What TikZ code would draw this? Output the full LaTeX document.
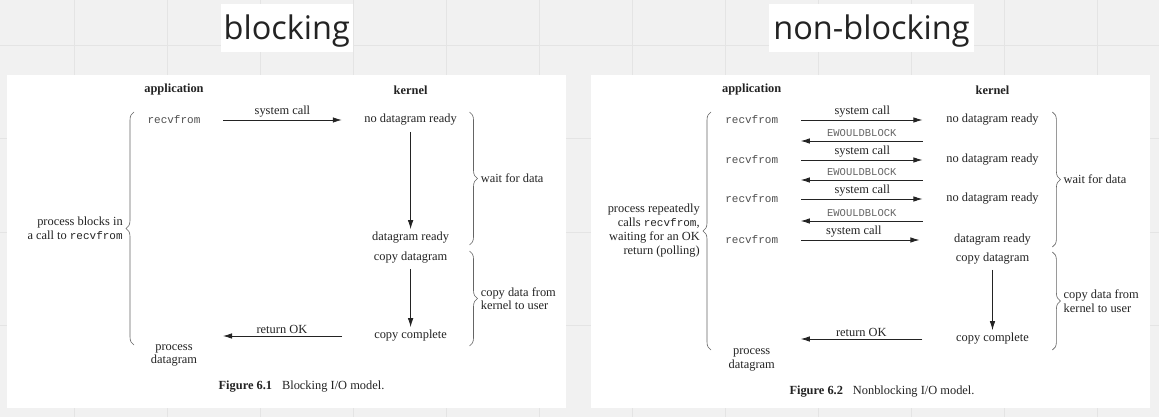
\documentclass[tikz,border=0pt]{standalone}
\usepackage{fontspec}
\setmainfont{Liberation Serif}
\setmonofont{Liberation Mono}
\newfontfamily\boardfont{Open Sans}
\usetikzlibrary{arrows.meta,decorations.pathreplacing}

\definecolor{board}{RGB}{241,241,241}
\definecolor{boardline}{RGB}{228,228,228}
\definecolor{ink}{RGB}{35,35,35}
\newcommand{\callname}[1]{{\ttfamily\fontsize{11}{13.5}\selectfont #1}}

\begin{document}
\begin{tikzpicture}[x=1pt, y=-1pt]
% STYLES
\tikzset{%
    words/.style={%
inner sep=0pt,
text=ink,
font=\fontsize{12.4}{13.5}\selectfont
                 },
    head/.style={words, font=\fontsize{12.4}{13.5}\selectfont\bfseries},
    call/.style={inner sep=0pt, text=ink!80, font=\ttfamily\fontsize{11}{13.5}\selectfont},
    errno/.style={inner sep=0pt, text=ink!70, font=\ttfamily\fontsize{10.5}{12}\selectfont},
    note/.style={words, align=right},
    caption/.style={words, font=\fontsize{12.4}{13.5}\selectfont},
    flow/.style={-{Latex[length=9pt,width=5.5pt]}, line width=0.8pt, draw=ink},
    curly/.style={decorate, decoration={brace, amplitude=8pt}, line width=0.6pt, draw=ink!70},
    panel/.style={fill=white, draw=none, inner sep=0pt, anchor=north west, minimum width=559pt, minimum height=333pt},
    boardtitle/.style={%
fill=white,
inner sep=0pt,
text=ink,
anchor=base,
font=\boardfont\fontsize{32.5}{36}\selectfont,
text height=35.3pt,
text depth=12.4pt
                      }
             }

% Board and grid
\useasboundingbox (0,0) rectangle (1159,417);
\fill[board] (0,0) rectangle (1159,417);
\foreach \gx in {0,...,11}
    \draw[boardline, line width=1pt] (74.6+93*\gx,0) -- (74.6+93*\gx,417);
\foreach \gy in {0,...,3}
    \draw[boardline, line width=1pt] (0,46+93*\gy) -- (1159,46+93*\gy);

% Titles and panels
\node[boardtitle, minimum width=131.7pt] (blocktitle) at (286.8,39.3) {blocking};
\node[boardtitle, minimum width=205pt] (nonblocktitle) at (871.5,39.3) {non-blocking};
\node[panel] (blockpanel) at (7,75) {};
\node[panel] (nonblockpanel) at (591,75) {};

% Blocking I/O model
\node[head] (app1) at (174,90) {application};
\node[head] (ker1) at (410.6,90) {kernel};
\node[call] (rv1) at (174,120) {recvfrom};
\node[words] (nd1) at (410.6,120) {no datagram ready};
\node[words] (dr1) at (410.6,238) {datagram ready};
\node[words] (cd1) at (410.6,258) {copy datagram};
\node[words] (cc1) at (410.6,336) {copy complete};
\node[words, align=center] (pd1) at (174,355.5) {process\\datagram};
\node[caption] (cap1) at (301.5,387) {\textbf{Figure 6.1}\hspace{0.8em}Blocking I/O model.};
\coordinate (ok1) at (223,336);

\draw[flow, shorten <=22.5pt, shorten >=22.5pt] (rv1) -- node[words, above=2pt] (sc1) {system call} (nd1);
\draw[flow, shorten <=6pt, shorten >=3pt] (nd1) -- (dr1);
\draw[flow, shorten <=5pt, shorten >=3pt] (cd1) -- (cc1);
\draw[flow, shorten <=32pt] (cc1) -- node[words, above=2pt, pos=0.61] (rok1) {return OK} (ok1);

\coordinate (blk1a) at (134,345);
\coordinate (blk1b) at (134,112);
\coordinate (wt1a) at (469.5,112);
\coordinate (wt1b) at (469.5,245);
\coordinate (cp1a) at (469.5,251);
\coordinate (cp1b) at (469.5,346);
\draw[curly] (blk1a) -- node[note, midway, left=11pt] (why1) {process blocks in\\a call to \callname{recvfrom}} (blk1b);
\draw[curly] (wt1a) -- node[words, midway, right=11pt] (wait1) {wait for data} (wt1b);
\draw[curly] (cp1a) -- node[words, align=left, midway, right=11pt] (copy1) {copy data from\\kernel to user} (cp1b);

% Nonblocking I/O model
\node[head] (app2) at (751.7,90) {application};
\node[head] (ker2) at (992.5,90) {kernel};
\node[call] (rv2a) at (751.7,120) {recvfrom};
\node[call] (rv2b) at (751.7,160) {recvfrom};
\node[call] (rv2c) at (751.7,199) {recvfrom};
\node[call] (rv2d) at (751.7,240) {recvfrom};
\node[words] (nd2a) at (992.5,120) {no datagram ready};
\node[words] (nd2b) at (992.5,160) {no datagram ready};
\node[words] (nd2c) at (992.5,199) {no datagram ready};
\node[words] (dr2) at (992.5,240) {datagram ready};
\node[words] (cd2) at (992.5,259) {copy datagram};
\node[words] (cc2) at (992.5,339) {copy complete};
\node[words, align=center] (pd2) at (751.7,360) {process\\datagram};
\node[caption] (cap2) at (882,392) {\textbf{Figure 6.2}\hspace{0.8em}Nonblocking I/O model.};
\coordinate (ew1k) at (922.7,141);
\coordinate (ew1a) at (800.8,141);
\coordinate (ew2k) at (922.7,180);
\coordinate (ew2a) at (800.8,180);
\coordinate (ew3k) at (922.7,221);
\coordinate (ew3a) at (800.8,221);
\coordinate (ok2) at (800.8,339);

\draw[flow, shorten <=22.7pt, shorten >=23.7pt] (rv2a) -- node[words, above=2pt] (sc2a) {system call} (nd2a);
\draw[flow] (ew1k) -- node[errno, above=4pt] (ew1) {EWOULDBLOCK} (ew1a);
\draw[flow, shorten <=22.7pt, shorten >=23.7pt] (rv2b) -- node[words, above=2pt] (sc2b) {system call} (nd2b);
\draw[flow] (ew2k) -- node[errno, above=4pt] (ew2) {EWOULDBLOCK} (ew2a);
\draw[flow, shorten <=22.7pt, shorten >=23.7pt] (rv2c) -- node[words, above=2pt] (sc2c) {system call} (nd2c);
\draw[flow] (ew3k) -- node[errno, above=4pt] (ew3) {EWOULDBLOCK} (ew3a);
\draw[flow, shorten <=22.7pt, shorten >=34.5pt] (rv2d) -- node[words, above=2pt, pos=0.43] (sc2d) {system call} (dr2);
\draw[flow, shorten <=5pt, shorten >=3pt] (cd2) -- (cc2);
\draw[flow, shorten <=33.5pt] (cc2) -- node[words, above=2pt, pos=0.61] (rok2) {return OK} (ok2);

\coordinate (poll2a) at (711,350);
\coordinate (poll2b) at (711,112);
\coordinate (wt2a) at (1052.4,112);
\coordinate (wt2b) at (1052.4,247);
\coordinate (cp2a) at (1052.4,252);
\coordinate (cp2b) at (1052.4,350);
\draw[curly] (poll2a) -- node[note, midway, left=11pt, font=\fontsize{12.4}{14}\selectfont] (why2) {process repeatedly\\calls \callname{recvfrom},\\waiting for an OK\\return (polling)} (poll2b);
\draw[curly] (wt2a) -- node[words, midway, right=11pt] (wait2) {wait for data} (wt2b);
\draw[curly] (cp2a) -- node[words, align=left, midway, right=11pt] (copy2) {copy data from\\kernel to user} (cp2b);
\end{tikzpicture}
\end{document}
